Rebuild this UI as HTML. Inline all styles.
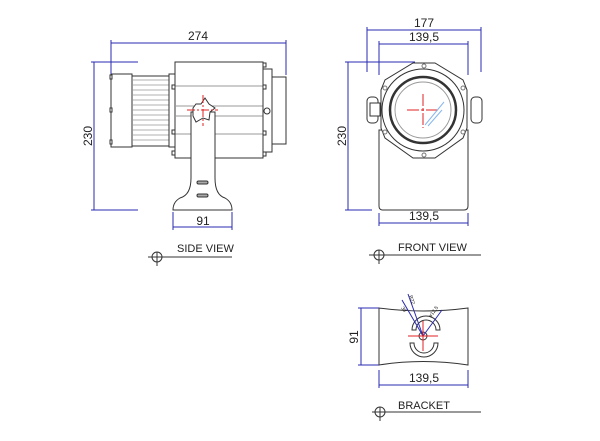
<!DOCTYPE html>
<html><head><meta charset="utf-8"><style>html,body{margin:0;padding:0;background:#fff}svg{display:block}text{font-family:"Liberation Sans",sans-serif;fill:#222}</style></head>
<body>
<svg width="600" height="441" viewBox="0 0 600 441" xmlns="http://www.w3.org/2000/svg">
<g stroke="#333" stroke-width="1" fill="#fff">
<!-- side view -->
<rect x="111" y="74" width="21" height="73"/>
<rect x="132" y="76" width="37" height="70"/>
<g stroke="#999" stroke-width="0.7"><line x1="132" y1="80" x2="169" y2="80"/><line x1="132" y1="85" x2="169" y2="85"/><line x1="132" y1="90" x2="169" y2="90"/><line x1="132" y1="95" x2="169" y2="95"/><line x1="132" y1="100" x2="169" y2="100"/><line x1="132" y1="105" x2="169" y2="105"/><line x1="132" y1="110" x2="169" y2="110"/><line x1="132" y1="115" x2="169" y2="115"/><line x1="132" y1="120" x2="169" y2="120"/><line x1="132" y1="125" x2="169" y2="125"/><line x1="132" y1="130" x2="169" y2="130"/><line x1="132" y1="135" x2="169" y2="135"/><line x1="132" y1="140" x2="169" y2="140"/></g>
<rect x="169" y="74" width="6" height="73"/>
<rect x="175" y="62" width="88" height="96"/>
<g stroke="#999"><line x1="175" y1="86" x2="263" y2="86"/><line x1="175" y1="106" x2="263" y2="106"/><line x1="175" y1="116" x2="263" y2="116"/><line x1="175" y1="134" x2="263" y2="134"/></g>
<rect x="263" y="69" width="9" height="83"/>
<rect x="272" y="77" width="14" height="67"/>
<circle cx="267" cy="111" r="3"/>
<g fill="#fff"><rect x="172" y="85" width="3" height="4"/><rect x="172" y="130" width="3" height="4"/><rect x="172" y="151" width="3" height="4"/><rect x="263" y="63" width="3" height="4"/><rect x="263" y="85" width="3" height="4"/><rect x="263" y="131" width="3" height="4"/><rect x="263" y="152" width="3" height="4"/><rect x="110" y="75" width="2" height="4"/><rect x="110" y="108" width="2" height="4"/><rect x="110" y="140" width="2" height="4"/></g>
<path d="M191 112 L191 178 Q191 195 180 198 Q173 202 173 210 L232 210 Q232 202 225 198 Q215 195 215 178 L215 112 Z"/>
<path d="M196 104 L201 104 L205 98 L209 104 L215 108 L210 112 L209 120 L203 118 L196 122 L193 116 L193 108 Z"/>
<rect x="197" y="181" width="11" height="3" rx="1.5" fill="#aaa"/><rect x="197" y="194" width="11" height="3" rx="1.5" fill="#aaa"/>
<!-- front view -->
<path d="M379 130 L379 206 Q379 210 383 210 L464 210 Q468 210 468 206 L468 130 Z"/>
<rect x="367" y="97" width="11" height="26" rx="4"/><rect x="370" y="103" width="10" height="13"/>
<rect x="471" y="97" width="11" height="26" rx="4"/>
<path d="M413 63 L435 63 L463 80 L467 90 L467 128 L463 138 L435 158 L413 158 L385 138 L381 128 L381 90 L385 80 Z"/>
<circle cx="423" cy="110" r="41"/>
<circle cx="423" cy="110" r="33" stroke-width="2.5"/>
<circle cx="423" cy="110" r="28" stroke="#999"/>
<g fill="#fff" stroke="#777"><circle cx="424" cy="66" r="2"/><circle cx="424" cy="155" r="2"/><circle cx="385" cy="88" r="2"/><circle cx="463" cy="88" r="2"/><circle cx="385" cy="132" r="2"/><circle cx="463" cy="132" r="2"/></g>
<!-- bracket -->
<path d="M379 308 Q423 314 468 308 L468 365 Q423 358 379 365 Z"/>
<path d="M412 330 A14 14 0 0 1 440 330 L436 330 A10 10 0 0 0 416 330 Z"/>
<path d="M410 343 A14 14 0 0 0 438 343 L434 343 A10 10 0 0 1 414 343 Z"/>
<circle cx="423" cy="336" r="4"/>
<!-- markers -->
<line x1="148" y1="257" x2="232" y2="257"/><circle cx="157" cy="257" r="5" fill="none"/><line x1="157" y1="252" x2="157" y2="266"/>
<line x1="369" y1="255" x2="481" y2="255"/><circle cx="379" cy="255" r="5" fill="none"/><line x1="379" y1="250" x2="379" y2="264"/>
<line x1="372" y1="412" x2="481" y2="412"/><circle cx="380" cy="412" r="5" fill="none"/><line x1="380" y1="407" x2="380" y2="421"/>
</g>
<g stroke="#2a2ab0" stroke-width="1" fill="none">
<line x1="111" y1="43" x2="286" y2="43"/><line x1="111" y1="40" x2="111" y2="74"/><line x1="286" y1="40" x2="286" y2="75"/>
<line x1="94" y1="62" x2="94" y2="210"/><line x1="91" y1="62" x2="138" y2="62"/><line x1="91" y1="210" x2="138" y2="210"/>
<line x1="173" y1="227" x2="232" y2="227"/><line x1="173" y1="212" x2="173" y2="230"/><line x1="232" y1="212" x2="232" y2="230"/>
<line x1="367" y1="30" x2="481" y2="30"/><line x1="367" y1="27" x2="367" y2="72"/><line x1="481" y1="27" x2="481" y2="72"/>
<line x1="379" y1="44" x2="468" y2="44"/><line x1="379" y1="41" x2="379" y2="75"/><line x1="468" y1="41" x2="468" y2="75"/>
<line x1="348" y1="62" x2="348" y2="210"/><line x1="345" y1="62" x2="415" y2="62"/><line x1="345" y1="210" x2="372" y2="210"/>
<line x1="379" y1="223" x2="468" y2="223"/><line x1="379" y1="213" x2="379" y2="226"/><line x1="468" y1="213" x2="468" y2="226"/>
<line x1="361" y1="308" x2="361" y2="365"/><line x1="358" y1="308" x2="379" y2="308"/><line x1="358" y1="365" x2="379" y2="365"/>
<line x1="379" y1="385" x2="468" y2="385"/><line x1="379" y1="370" x2="379" y2="388"/><line x1="468" y1="370" x2="468" y2="388"/>
<line x1="402" y1="300" x2="423" y2="336"/><line x1="408" y1="294" x2="423" y2="336"/><line x1="423" y1="336" x2="442" y2="310"/>
</g>
<g stroke="#e02020" stroke-width="1">
<line x1="187" y1="110" x2="218" y2="110" stroke-dasharray="8 2 2 2"/><line x1="203" y1="95" x2="203" y2="126" stroke-dasharray="8 2 2 2"/>
<line x1="407" y1="110" x2="440" y2="110" stroke-dasharray="12 2 3 2"/><line x1="423" y1="94" x2="423" y2="128" stroke-dasharray="12 2 3 2"/>
<line x1="408" y1="336" x2="438" y2="336"/><line x1="423" y1="321" x2="423" y2="351"/>
</g>
<g stroke="#8ab8ee" stroke-width="1"><line x1="425" y1="125" x2="444" y2="102"/><line x1="428" y1="126" x2="442" y2="110"/></g>
<g font-size="12" text-anchor="middle">
<text x="198" y="40">274</text>
<text x="203" y="225">91</text>
<text x="424" y="27">177</text>
<text x="424" y="41">139,5</text>
<text x="424" y="220">139,5</text>
<text x="424" y="382">139,5</text>
<text transform="translate(92,136) rotate(-90)">230</text>
<text transform="translate(346,136) rotate(-90)">230</text>
<text transform="translate(358,337) rotate(-90)">91</text>
</g>
<g font-size="11">
<text x="177" y="252">SIDE VIEW</text>
<text x="398" y="251">FRONT  VIEW</text>
<text x="398" y="409">BRACKET</text>
</g>
<g font-size="5" fill="#333"><text transform="translate(409,296) rotate(70)">R22</text><text transform="translate(401,308) rotate(55)">38</text><text transform="translate(431,318) rotate(-55)">ø12.5</text></g>
</svg>
</body></html>
